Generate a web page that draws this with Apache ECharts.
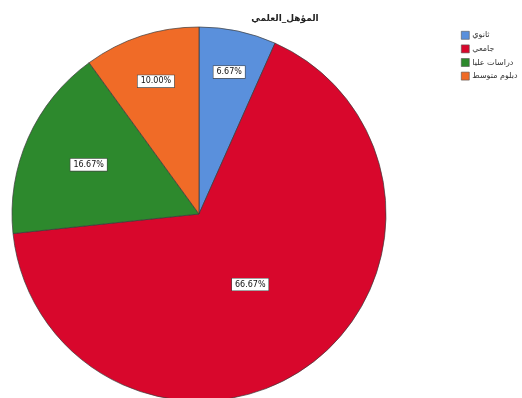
<!DOCTYPE html>
<html>
<head>
<meta charset="utf-8">
<script src="https://cdn.jsdelivr.net/npm/echarts@6/dist/echarts.min.js"></script>
<style>
  html, body { margin: 0; padding: 0; background: #ffffff; }
  #chart { width: 522px; height: 398px; }
</style>
</head>
<body>
<div id="chart"></div>
<script>
// Educational qualification breakdown (counts out of 30)
const chartTitle = 'المؤهل_العلمي';
const categories = ['ثانوي', 'جامعي', 'دراسات عليا', 'دبلوم متوسط'];
const counts = [2, 20, 5, 3];
const sliceColors = ['#5a90dc', '#d8072c', '#2d892d', '#f06b27'];
// how far out along the radius each percentage tag sits (fraction of radius)
const labelRadius = [0.76, 0.45, 0.63, 0.73];

const total = counts.reduce((a, b) => a + b, 0);
const R = 187;
const centerXY = [199, 214];

// mid angle of each slice, clockwise from 12 o'clock
const midAngles = [];
let acc = 0;
counts.forEach(v => {
  const span = v / total * 2 * Math.PI;
  midAngles.push(acc + span / 2);
  acc += span;
});

const chart = echarts.init(document.getElementById('chart'), null, { renderer: 'canvas' });
chart.setOption({
  animation: false,
  backgroundColor: '#ffffff',
  title: {
    text: chartTitle,
    left: 280,
    top: 9,
    textAlign: 'center',
    textStyle: { fontFamily: 'DejaVu Sans', fontSize: 9, fontWeight: 'bold', color: '#222' }
  },
  legend: {
    orient: 'vertical',
    left: 456,
    top: 26,
    itemWidth: 8,
    itemHeight: 8,
    itemGap: 5,
    icon: 'rect',
    textStyle: { fontFamily: 'DejaVu Sans', fontSize: 8, color: '#333', padding: [0, 0, 0, -2] },
    itemStyle: { borderColor: '#555', borderWidth: 0.6 },
    data: categories
  },
  series: [{
    type: 'pie',
    center: centerXY,
    radius: [0, R],
    startAngle: 90,
    clockwise: true,
    avoidLabelOverlap: false,
    silent: true,
    itemStyle: { borderColor: '#3b3b3b', borderWidth: 0.7 },
    label: {
      position: 'inside',
      formatter: p => (p.value / total * 100).toFixed(2) + '%',
      fontFamily: 'DejaVu Sans',
      fontSize: 8,
      color: '#111',
      backgroundColor: '#ffffff',
      borderColor: '#444',
      borderWidth: 0.6,
      padding: [2, 3, 2, 3]
    },
    labelLayout: params => {
      const i = params.dataIndex;
      const shift = (labelRadius[i] - 0.5) * R;
      return {
        dx: shift * Math.sin(midAngles[i]),
        dy: -shift * Math.cos(midAngles[i])
      };
    },
    labelLine: { show: false },
    data: categories.map((name, i) => ({
      name: name,
      value: counts[i],
      itemStyle: { color: sliceColors[i] }
    }))
  }]
});
</script>
</body>
</html>
